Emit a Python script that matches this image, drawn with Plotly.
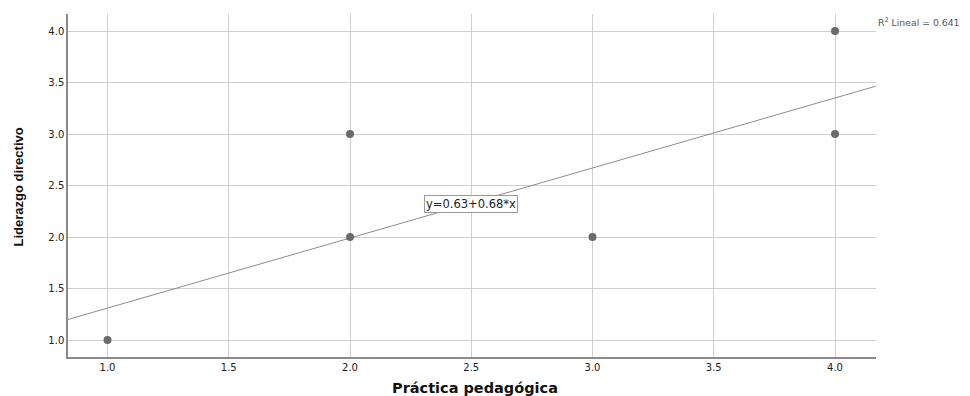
import plotly.graph_objects as go

# Data
practica = [1.0, 2.0, 2.0, 3.0, 4.0, 4.0]
liderazgo = [1.0, 2.0, 3.0, 2.0, 3.0, 4.0]
intercept = 0.63
slope = 0.68
r2 = 0.641
x_ticks = [1.0, 1.5, 2.0, 2.5, 3.0, 3.5, 4.0]
y_ticks = [1.0, 1.5, 2.0, 2.5, 3.0, 3.5, 4.0]

x_range = [0.837, 4.169]
y_range = [0.835, 4.165]

fig = go.Figure()

fit_x = [x_range[0], x_range[1]]
fit_y = [intercept + slope * v for v in fit_x]
fig.add_trace(go.Scatter(x=fit_x, y=fit_y, mode="lines",
                         line=dict(color="#8c8c8c", width=1), hoverinfo="skip",
                         showlegend=False))
fig.add_trace(go.Scatter(x=practica, y=liderazgo, mode="markers",
                         marker=dict(color="#6b6b6b", size=8,
                                     line=dict(width=0)),
                         showlegend=False))

tickfont = dict(family="DejaVu Sans, Verdana, sans-serif", size=10, color="#222")
fig.update_xaxes(range=x_range, tickvals=x_ticks,
                 ticktext=[f"{v:.1f}" for v in x_ticks],
                 showgrid=True, gridcolor="#cfcfcf", gridwidth=1,
                 showline=True, linecolor="#8a8a8a", linewidth=1.5,
                 ticks="", zeroline=False, tickfont=tickfont)
fig.update_yaxes(range=y_range, tickvals=y_ticks,
                 ticktext=[f"{v:.1f}" for v in y_ticks],
                 showgrid=True, gridcolor="#cfcfcf", gridwidth=1,
                 showline=True, linecolor="#8a8a8a", linewidth=1.5,
                 ticks="", zeroline=False, tickfont=tickfont)

fig.add_annotation(x=2.5, y=2.32, xref="x", yref="y",
                   text=f"y={intercept:.2f}+{slope:.2f}*x", showarrow=False,
                   font=dict(family="DejaVu Sans, Verdana, sans-serif", size=11.5, color="#222"),
                   bgcolor="white", bordercolor="#9a9a9a", borderwidth=1, borderpad=1)
fig.add_annotation(x=1.0, y=1.0, xref="paper", yref="paper",
                   xanchor="left", yanchor="middle", xshift=0, yshift=-8,
                   text=f"R<sup>2</sup> Lineal = {r2:.3f}", showarrow=False,
                   font=dict(family="DejaVu Sans, Verdana, sans-serif", size=9.3, color="#555"))
fig.add_annotation(x=0.5, y=0, xref="paper", yref="paper",
                   xanchor="center", yanchor="middle", yshift=-31, xshift=3,
                   text="<b>Práctica pedagógica</b>", showarrow=False,
                   font=dict(family="DejaVu Sans, Verdana, sans-serif", size=14.5, color="#111"))
fig.add_annotation(x=0, y=0.5, xref="paper", yref="paper",
                   xanchor="center", yanchor="middle", xshift=-50, yshift=-2,
                   text="<b>Liderazgo directivo</b>", showarrow=False, textangle=-90,
                   font=dict(family="Liberation Sans Narrow, Arial Narrow, Liberation Sans, sans-serif", size=13, color="#111"))

fig.update_layout(width=962, height=388,
                  margin=dict(l=60, r=94, t=6, b=39),
                  paper_bgcolor="white", plot_bgcolor="white")

fig.write_html("out.html")
